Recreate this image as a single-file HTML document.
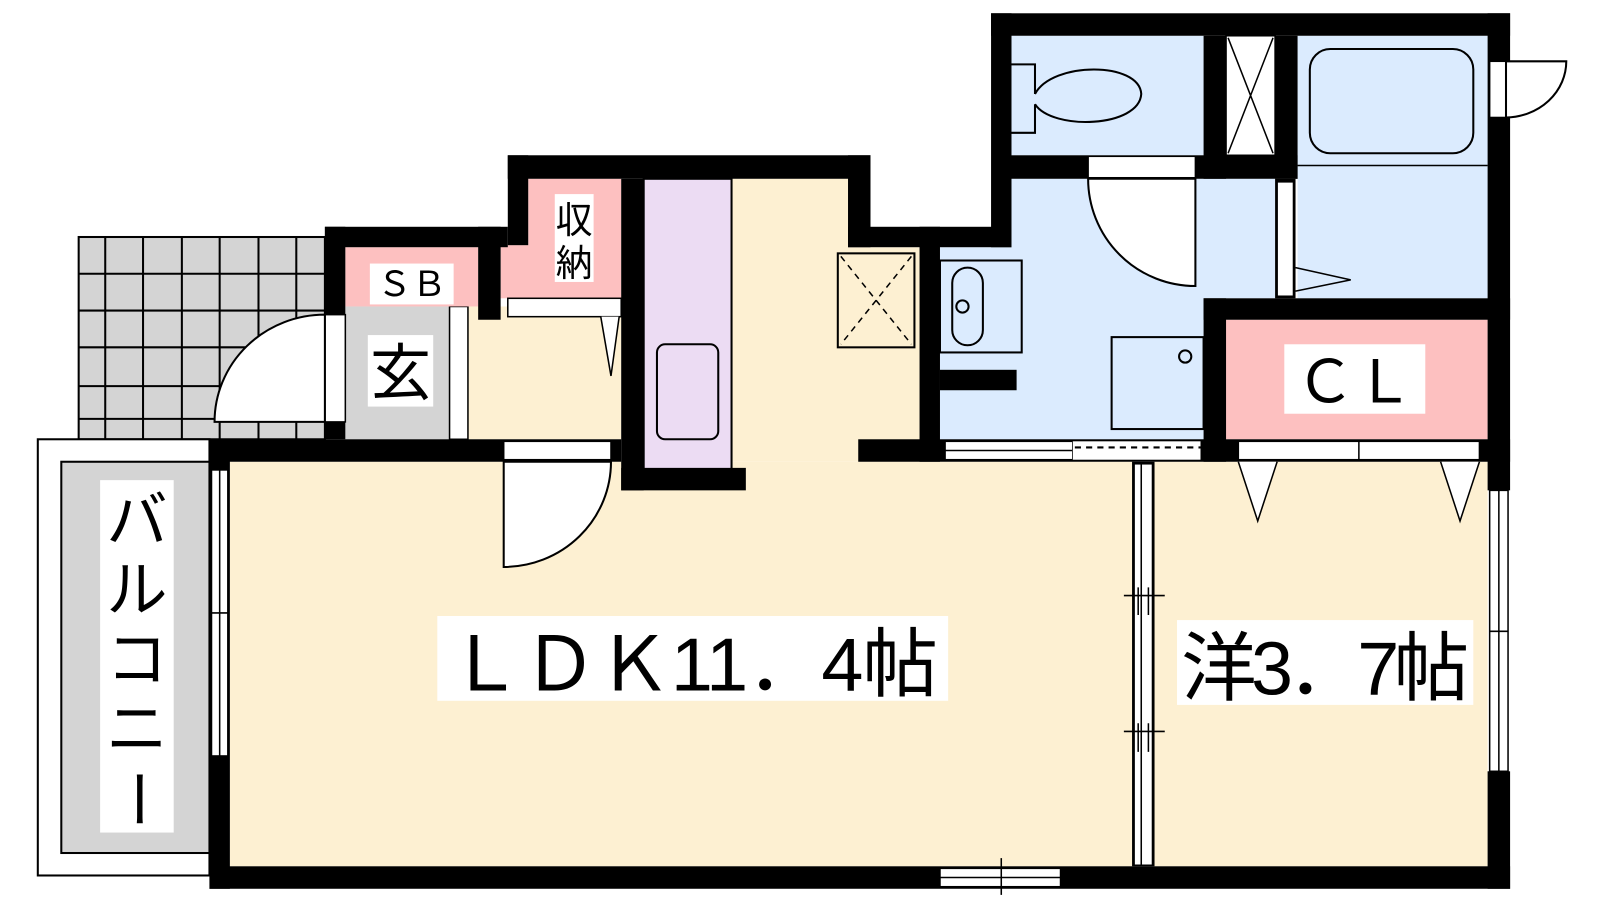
<!DOCTYPE html>
<html><head><meta charset="utf-8"><style>
html,body{margin:0;padding:0;background:#fff;width:1600px;height:900px;overflow:hidden}
svg{display:block}
text{font-family:"Liberation Sans","Noto Sans CJK JP",sans-serif;fill:#000}
</style></head><body>
<svg width="1600" height="900" viewBox="0 0 1566 881" preserveAspectRatio="none" xmlns="http://www.w3.org/2000/svg">
<rect x="77" y="232" width="241" height="198" fill="#d4d4d4" stroke="#000" stroke-width="2"/>
<g stroke="#000" stroke-width="2">
<line x1="103" y1="232" x2="103" y2="430"/><line x1="140" y1="232" x2="140" y2="430"/><line x1="178" y1="232" x2="178" y2="430"/><line x1="215" y1="232" x2="215" y2="430"/><line x1="253" y1="232" x2="253" y2="430"/><line x1="290" y1="232" x2="290" y2="430"/>
<line x1="77" y1="268" x2="318" y2="268"/><line x1="77" y1="304" x2="318" y2="304"/><line x1="77" y1="340" x2="318" y2="340"/><line x1="77" y1="378" x2="318" y2="378"/><line x1="77" y1="410" x2="318" y2="410"/>
</g>
<rect x="37" y="430" width="168" height="427" fill="#fff" stroke="#000" stroke-width="2"/>
<rect x="60" y="452" width="145" height="383" fill="#d4d4d4" stroke="#000" stroke-width="2"/>
<rect x="98" y="470" width="72" height="345" fill="#fff"/>
<text x="134" y="530" font-size="60" text-anchor="middle">バ</text>
<text x="134" y="598" font-size="60" text-anchor="middle">ル</text>
<text x="134" y="666" font-size="60" text-anchor="middle">コ</text>
<text x="134" y="734" font-size="60" text-anchor="middle">ニ</text>
<text x="134" y="802" font-size="60" text-anchor="middle" transform="rotate(90 134 782)">ー</text>
<rect x="225" y="452" width="885" height="396" fill="#fdf0d2"/>
<rect x="1130" y="452" width="326" height="396" fill="#fdf0d2"/>
<path d="M716 175H832V242H900V452H716Z" fill="#fdf0d2"/>
<rect x="458" y="300" width="150" height="130" fill="#fdf0d2"/>
<rect x="630" y="175" width="86" height="285" fill="#ecdcf3" stroke="#000" stroke-width="2"/>
<rect x="643" y="337" width="60" height="93" rx="8" fill="none" stroke="#000" stroke-width="2"/>
<rect x="338" y="300" width="102" height="130" fill="#d4d4d4"/>
<rect x="440" y="300" width="18" height="130" fill="#fff" stroke="#000" stroke-width="1.5"/>
<rect x="338" y="242" width="130" height="58" fill="#fdc0c0"/>
<path d="M517 175H608V292H490V240H517Z" fill="#fdc0c0"/>
<rect x="497" y="292" width="111" height="18" fill="#fff" stroke="#000" stroke-width="1.5"/>
<path d="M588 310 L598 368 L606 310" fill="#fff" stroke="#000" stroke-width="1.5"/>
<rect x="990" y="35" width="188" height="117" fill="#dbebfe"/>
<rect x="1270" y="35" width="186" height="257" fill="#dbebfe"/>
<line x1="1270" y1="162" x2="1456" y2="162" stroke="#000" stroke-width="1.5"/>
<path d="M990 175H1248V292H1178V432H920V242H990Z" fill="#dbebfe"/>
<rect x="1200" y="313" width="256" height="117" fill="#fdc0c0"/>
<g fill="#000">
<rect x="970" y="13" width="508" height="22"/>
<rect x="970" y="13" width="20" height="229"/>
<rect x="1456" y="13" width="22" height="467"/>
<rect x="1456" y="755" width="22" height="115"/>
<rect x="1178" y="35" width="22" height="140"/>
<rect x="1248" y="35" width="22" height="140"/>
<rect x="990" y="152" width="280" height="23"/>
<rect x="1248" y="175" width="20" height="117"/>
<rect x="1178" y="292" width="300" height="21"/>
<rect x="1178" y="292" width="22" height="160"/>
<rect x="830" y="222" width="160" height="20"/>
<rect x="900" y="222" width="20" height="230"/>
<rect x="920" y="362" width="75" height="20"/>
<rect x="840" y="430" width="638" height="22"/>
<rect x="497" y="152" width="355" height="23"/>
<rect x="830" y="152" width="22" height="90"/>
<rect x="497" y="152" width="20" height="88"/>
<rect x="608" y="175" width="22" height="305"/>
<rect x="608" y="458" width="122" height="22"/>
<rect x="318" y="222" width="179" height="20"/>
<rect x="468" y="222" width="22" height="91"/>
<rect x="318" y="222" width="20" height="208"/>
<rect x="205" y="430" width="403" height="22"/>
<rect x="205" y="430" width="20" height="440"/>
<rect x="205" y="848" width="1273" height="22"/>
<rect x="1108" y="452" width="22" height="396"/>
</g>
<rect x="318" y="308" width="20" height="105" fill="#fff" stroke="#000" stroke-width="1.5"/>
<path d="M318 308 A108 105 0 0 0 210 413 L318 413Z" fill="#fff" stroke="#000" stroke-width="2"/>
<rect x="493" y="432" width="105" height="18" fill="#fff" stroke="#000" stroke-width="1.5"/>
<path d="M493 452 V555 A105 103 0 0 0 598 452Z" fill="#fff" stroke="#000" stroke-width="2"/>
<rect x="1065" y="153" width="105" height="21" fill="#fff" stroke="#000" stroke-width="1.5"/>
<path d="M1065 175 A105 105 0 0 0 1170 280 V175Z" fill="#fff" stroke="#000" stroke-width="2"/>
<rect x="1250" y="178" width="16" height="112" fill="#fff" stroke="#000" stroke-width="1.5"/>
<path d="M1268 262 L1322 274 L1268 285" fill="none" stroke="#000" stroke-width="1.5"/>
<rect x="1200" y="35" width="48" height="117" fill="#fff" stroke="#000" stroke-width="1.5"/>
<path d="M1202 37 L1246 150 M1246 37 L1202 150" stroke="#000" stroke-width="1.5"/>
<rect x="1458" y="60" width="16" height="55" fill="#fff" stroke="#000" stroke-width="1.5"/>
<path d="M1474 60 H1533 A60 55 0 0 1 1474 115Z" fill="#fff" stroke="#000" stroke-width="2"/>
<rect x="925" y="432" width="125" height="18" fill="#fff" stroke="#000" stroke-width="1.5"/>
<line x1="925" y1="441" x2="1050" y2="441" stroke="#000" stroke-width="1.5"/>
<rect x="1050" y="432" width="125" height="18" fill="#fff"/>
<line x1="1052" y1="438" x2="1175" y2="438" stroke="#000" stroke-width="2" stroke-dasharray="6 5"/>
<rect x="1212" y="432" width="236" height="18" fill="#fff" stroke="#000" stroke-width="1.5"/>
<line x1="1330" y1="432" x2="1330" y2="450" stroke="#000" stroke-width="1.5"/>
<path d="M1212 452 L1231 510 L1250 452 M1410 452 L1429 510 L1448 452" fill="#fff" stroke="#000" stroke-width="1.5"/>
<rect x="1458" y="480" width="18" height="275" fill="#fff" stroke="#000" stroke-width="1.5"/>
<line x1="1467" y1="480" x2="1467" y2="755" stroke="#000" stroke-width="1.5"/><line x1="1458" y1="618" x2="1476" y2="618" stroke="#000" stroke-width="1.5"/>
<rect x="207" y="460" width="16" height="280" fill="#fff" stroke="#000" stroke-width="1.5"/>
<line x1="215" y1="460" x2="215" y2="740" stroke="#000" stroke-width="1.5"/><line x1="207" y1="600" x2="223" y2="600" stroke="#000" stroke-width="1.5"/>
<rect x="920" y="850" width="118" height="18" fill="#fff" stroke="#000" stroke-width="1.5"/>
<line x1="920" y1="859" x2="1038" y2="859" stroke="#000" stroke-width="1.5"/><line x1="980" y1="840" x2="980" y2="876" stroke="#000" stroke-width="1.5"/>
<rect x="1110" y="454" width="18" height="393" fill="#fff" stroke="#000" stroke-width="1.5"/>
<line x1="1117" y1="454" x2="1117" y2="847" stroke="#000" stroke-width="1.5"/>
<path d="M1100 583 H1140 M1100 716 H1140 M1114 575 V602 M1124 575 V602 M1114 708 V736 M1124 708 V736" stroke="#000" stroke-width="1.5"/>
<rect x="820" y="248" width="75" height="92" fill="none" stroke="#000" stroke-width="2"/>
<path d="M823 251 L892 337 M892 251 L823 337" stroke="#000" stroke-width="1.5" stroke-dasharray="6 5"/>
<rect x="920" y="255" width="80" height="90" fill="none" stroke="#000" stroke-width="2"/>
<rect x="932" y="262" width="30" height="76" rx="15" fill="none" stroke="#000" stroke-width="2"/>
<circle cx="942" cy="300" r="6" fill="#dbebfe" stroke="#000" stroke-width="2"/>
<rect x="1088" y="330" width="90" height="90" fill="none" stroke="#000" stroke-width="2"/>
<circle cx="1160" cy="349" r="6" fill="none" stroke="#000" stroke-width="2"/>
<path d="M990 63 H1013 V92 M990 130 H1013 V102" fill="none" stroke="#000" stroke-width="2"/>
<path d="M1013 92 C1030 60 1115 60 1117 92 C1115 125 1030 128 1013 102" fill="none" stroke="#000" stroke-width="2"/>
<rect x="1282" y="48" width="160" height="102" rx="20" fill="none" stroke="#000" stroke-width="2"/>
<rect x="362" y="258" width="82" height="40" fill="#fff"/>
<text x="403" y="290" font-size="34" text-anchor="middle">ＳＢ</text>
<rect x="543" y="190" width="38" height="86" fill="#fff"/>
<text x="562" y="228" font-size="36" text-anchor="middle">収</text>
<text x="562" y="270" font-size="36" text-anchor="middle">納</text>
<rect x="360" y="328" width="64" height="70" fill="#fff"/>
<text x="392" y="386" font-size="60" text-anchor="middle">玄</text>
<rect x="1257" y="337" width="138" height="68" fill="#fff"/>
<text x="1326" y="394" font-size="58" text-anchor="middle">ＣＬ</text>
<rect x="428" y="603" width="500" height="83" fill="#fff"/>
<text x="678" y="676" font-size="74" text-anchor="middle" textLength="480">ＬＤＫ11．4帖</text>
<rect x="1152" y="607" width="290" height="83" fill="#fff"/>
<text x="1297" y="680" font-size="74" text-anchor="middle" textLength="282">洋3．7帖</text>
</svg>
</body></html>
